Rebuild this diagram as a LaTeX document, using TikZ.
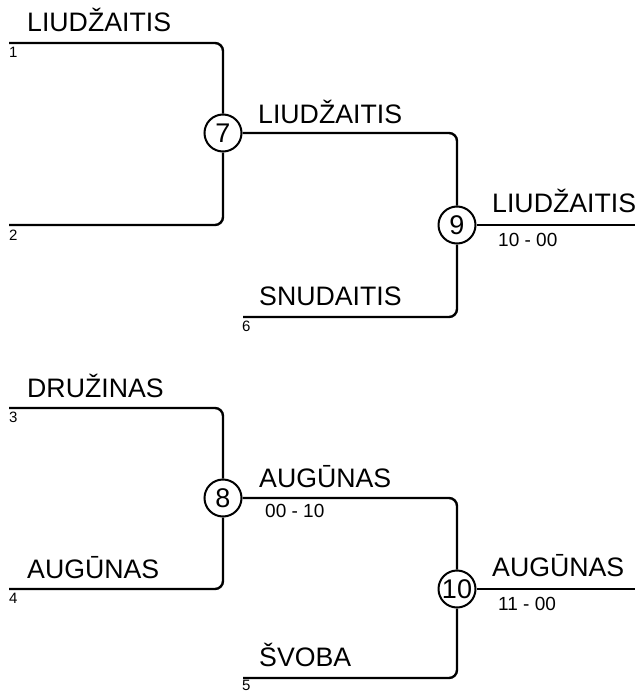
\documentclass[tikz,border=0pt]{standalone}
\usepackage{fontspec}
\setmainfont{Liberation Sans}
\begin{document}
\begin{tikzpicture}[x=1pt,y=-1pt,
  wire/.style={line width=2.4pt,rounded corners=8pt},
  matchc/.style={circle,draw,line width=2pt,minimum size=37pt,inner sep=0pt,fill=white,font=\fontsize{27}{27}\selectfont},
  plname/.style={anchor=base west,inner sep=0pt,font=\fontsize{26.7}{27}\selectfont},
  seednum/.style={anchor=base west,inner sep=0pt,font=\fontsize{15}{15}\selectfont},
  scoretxt/.style={anchor=base west,inner sep=0pt,font=\fontsize{19}{19}\selectfont}]
\useasboundingbox (0,0) rectangle (641,693);
% circles
\node[matchc] (c7) at (223,133) {7};
\node[matchc] (c9) at (457,225) {9};
\node[matchc] (c8) at (223,498) {8};
\node[matchc] (c10) at (457,589) {10};
% line starts / ends
\coordinate (s1) at (9,43);
\coordinate (s2) at (9,225);
\coordinate (s6) at (243,317);
\coordinate (s3) at (9,408);
\coordinate (s4) at (9,589);
\coordinate (s5) at (243,678);
\coordinate (e9) at (635,225);
\coordinate (e10) at (635,589);
% wires
\draw[wire] (s1) -| (c7);
\draw[wire] (s2) -| (c7);
\draw[wire] (c7) -| (c9);
\draw[wire] (s6) -| (c9);
\draw[wire] (c9) -- (e9);
\draw[wire] (s3) -| (c8);
\draw[wire] (s4) -| (c8);
\draw[wire] (c8) -| (c10);
\draw[wire] (s5) -| (c10);
\draw[wire] (c10) -- (e10);
% names
\node[plname] (n1) at (27,32) {LIUDŽAITIS};
\node[plname] (n7) at (258,123) {LIUDŽAITIS};
\node[plname] (n9) at (492,212) {LIUDŽAITIS};
\node[plname] (n6) at (259,305) {SNUDAITIS};
\node[plname] (n3) at (27,397) {DRUŽINAS};
\node[plname] (n8) at (259,487) {AUGŪNAS};
\node[plname] (n4) at (27,578) {AUGŪNAS};
\node[plname] (n10) at (492,576) {AUGŪNAS};
\node[plname] (n5) at (259,666) {ŠVOBA};
% seeds
\node[seednum] (d1) at (9,58) {1};
\node[seednum] (d2) at (9,240) {2};
\node[seednum] (d6) at (242,331) {6};
\node[seednum] (d3) at (9,422) {3};
\node[seednum] (d4) at (9,603) {4};
\node[seednum] (d5) at (242,690) {5};
% scores
\node[scoretxt] (r9) at (498,246) {10 - 00};
\node[scoretxt] (r8) at (265,517) {00 - 10};
\node[scoretxt] (r10) at (498,610) {11 - 00};
\end{tikzpicture}
\end{document}
